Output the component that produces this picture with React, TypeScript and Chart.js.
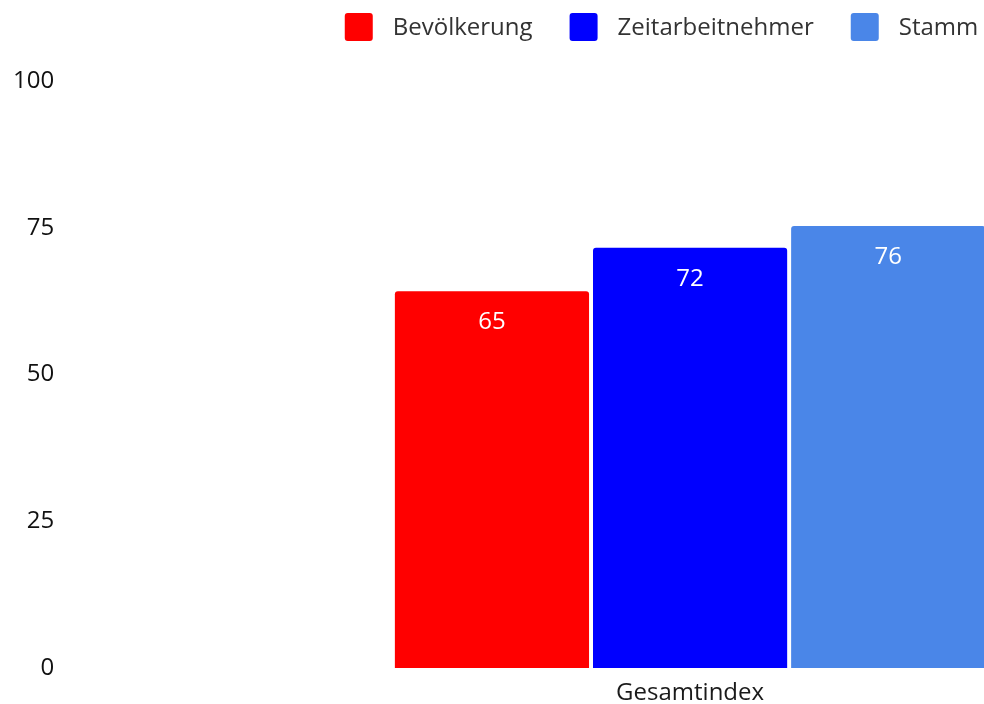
import React, { useEffect, useRef } from "react";
import { Chart, registerables } from "chart.js";

Chart.register(...registerables);

const categories = ["Gesamtindex"];
const seriesNames = ["Bevölkerung", "Zeitarbeitnehmer", "Stamm"];
const bevoelkerung = [64.2];
const zeitarbeitnehmer = [71.6];
const stamm = [75.3];
const bevoelkerungLabels = ["65"];
const zeitarbeitnehmerLabels = ["72"];
const stammLabels = ["76"];
const seriesColors = ["#ff0000", "#0000ff", "#4a86e8"];
const yTicks = [0, 25, 50, 75, 100];

const FONT = "'Open Sans', sans-serif";

const legendPlugin = {
  id: "customLegend",
  afterDraw(chart: any) {
    const ctx = chart.ctx;
    const box = 28;
    const gap = 20;
    const spacing = 37;
    const top = 13;
    ctx.save();
    ctx.font = `24px ${FONT}`;
    const items = chart.data.datasets.map((ds: any) => ({
      text: ds.label,
      color: ds.backgroundColor,
      w: box + gap + ctx.measureText(ds.label).width,
    }));
    const total =
      items.reduce((s: number, it: any) => s + it.w, 0) + spacing * (items.length - 1);
    let x = chart.width / 2 - total / 2;
    items.forEach((it: any) => {
      ctx.fillStyle = it.color;
      ctx.beginPath();
      ctx.roundRect(x, top, box, box, 3);
      ctx.fill();
      ctx.fillStyle = "#333333";
      ctx.textBaseline = "middle";
      ctx.textAlign = "left";
      ctx.fillText(it.text, x + box + gap, top + box / 2 + 1);
      x += it.w + spacing;
    });
    ctx.restore();
  },
};

const valueLabelPlugin = {
  id: "valueLabels",
  afterDatasetsDraw(chart: any) {
    const ctx = chart.ctx;
    ctx.save();
    ctx.font = `24px ${FONT}`;
    ctx.fillStyle = "#ffffff";
    ctx.textAlign = "center";
    ctx.textBaseline = "middle";
    chart.data.datasets.forEach((ds: any, di: number) => {
      const meta = chart.getDatasetMeta(di);
      meta.data.forEach((el: any, i: number) => {
        ctx.fillText(ds.valueLabels[i], el.x, el.y + 31);
      });
    });
    ctx.restore();
  },
};

export default function App() {
  const canvasRef = useRef<HTMLCanvasElement | null>(null);

  useEffect(() => {
    if (!canvasRef.current) return;
    const chart = new Chart(canvasRef.current, {
      type: "bar",
      data: {
        labels: categories,
        datasets: [
          {
            label: seriesNames[0],
            data: bevoelkerung,
            backgroundColor: seriesColors[0],
            valueLabels: bevoelkerungLabels,
          } as any,
          {
            label: seriesNames[1],
            data: zeitarbeitnehmer,
            backgroundColor: seriesColors[1],
            valueLabels: zeitarbeitnehmerLabels,
          } as any,
          {
            label: seriesNames[2],
            data: stamm,
            backgroundColor: seriesColors[2],
            valueLabels: stammLabels,
          } as any,
        ],
      },
      options: {
        responsive: false,
        animation: false,
        devicePixelRatio: 1,
        layout: { padding: { top: 81, left: 5, right: 5, bottom: 0 } },
        datasets: {
          bar: {
            categoryPercentage: 0.4733,
            barPercentage: 0.98,
            borderRadius: 3,
            borderSkipped: "start",
          },
        },
        plugins: {
          legend: { display: false },
          tooltip: { enabled: false },
          title: { display: false },
        },
        scales: {
          x: {
            grid: { display: false, drawTicks: false },
            border: { display: false },
            ticks: {
              font: { family: FONT, size: 24, lineHeight: 1 },
              color: "#1a1a1a",
              padding: 13.5,
            },
          },
          y: {
            min: 0,
            max: 100,
            grid: { display: false, drawTicks: false },
            border: { display: false },
            afterBuildTicks: (scale: any) => {
              scale.ticks = yTicks.map((v) => ({ value: v }));
            },
            ticks: {
              font: { family: FONT, size: 24 },
              color: "#111111",
              padding: 8,
            },
          },
        },
      },
      plugins: [legendPlugin, valueLabelPlugin],
    });
    return () => chart.destroy();
  }, []);

  return (
    <div
      style={{
        position: "absolute",
        left: 0,
        top: 0,
        width: 984,
        height: 704,
        overflow: "hidden",
      }}
    >
      <canvas
        ref={canvasRef}
        width={1323}
        height={719}
        style={{ display: "block" }}
      />
    </div>
  );
}
